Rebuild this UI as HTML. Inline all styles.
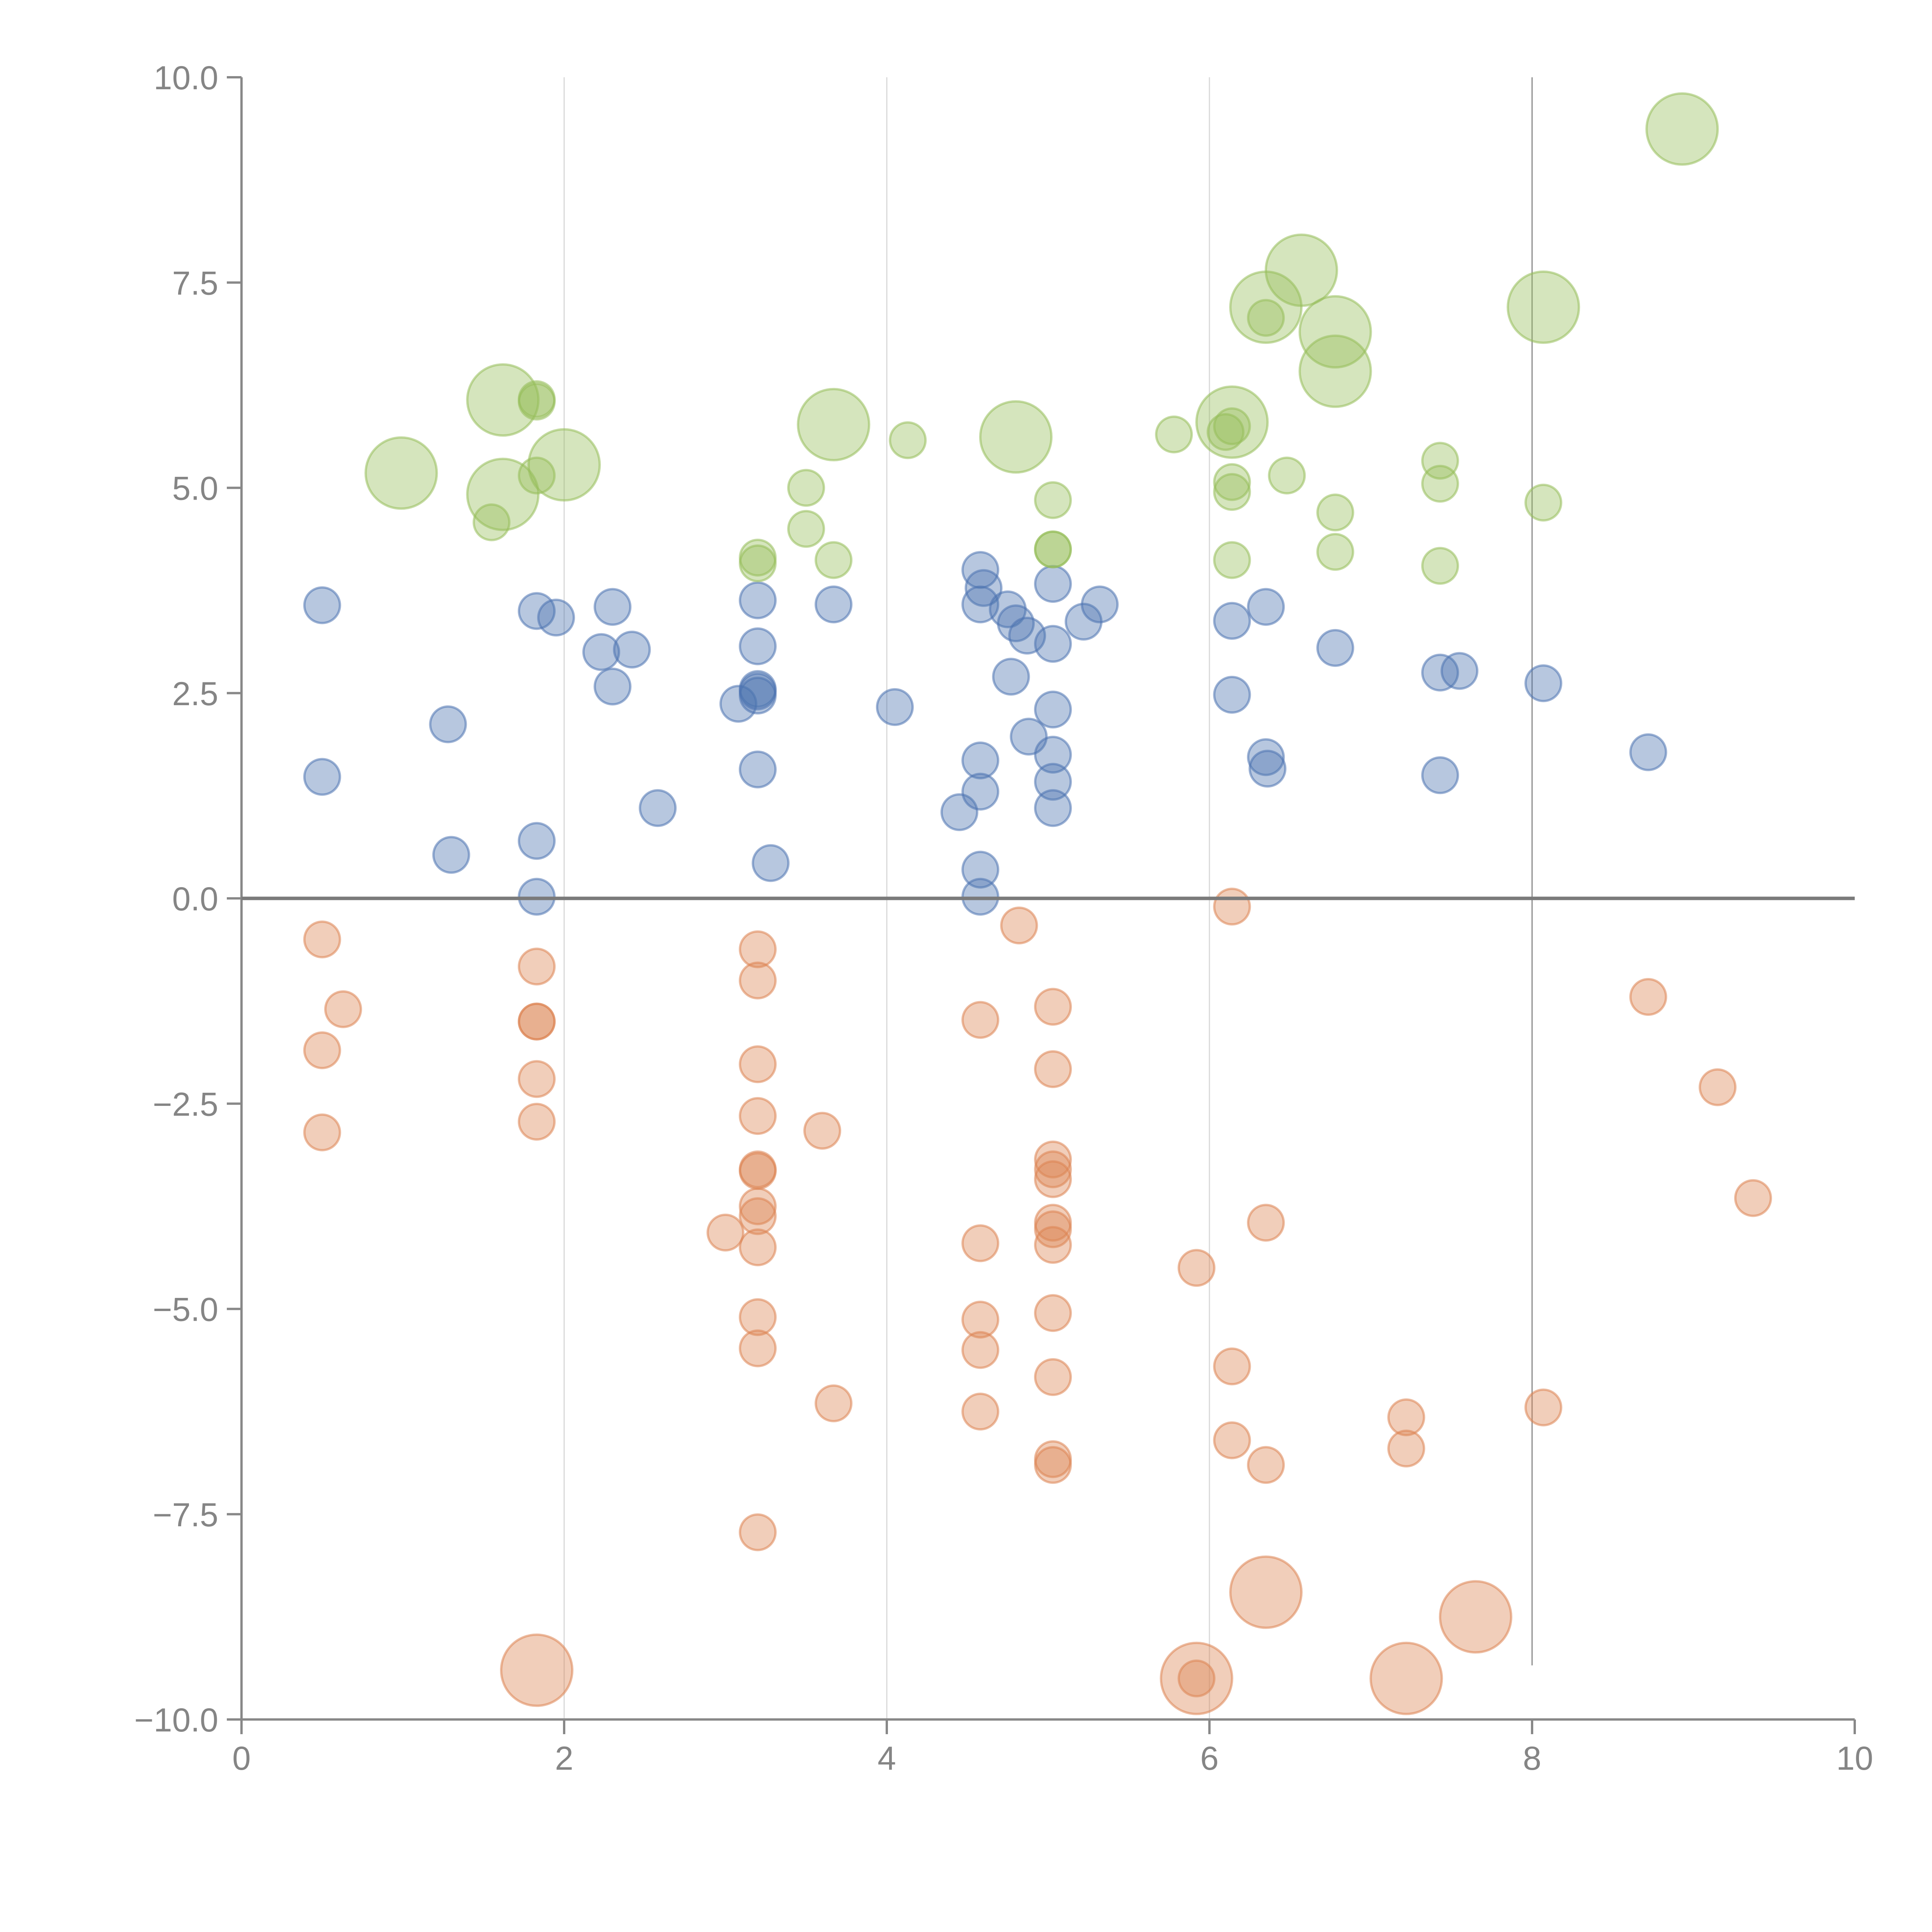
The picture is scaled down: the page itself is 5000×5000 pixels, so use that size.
<!DOCTYPE html>
<html><head><meta charset="utf-8"><style>html,body{margin:0;padding:0;background:#fff}svg{display:block}text{font-family:"Liberation Sans",Arial,sans-serif;fill:#858585}</style></head>
<body>
<svg id="chart" width="5000" height="5000" viewBox="0 0 5000 5000" xmlns="http://www.w3.org/2000/svg">
<g id="grid"></g>
<g id="marks"></g>
<g id="axes"></g>
</svg>
<script>
const xTicks=[0,2,4,6,8,10];
const xTickLabels=["0","2","4","6","8","10"];
const yTicks=[10,7.5,5,2.5,0,-2.5,-5,-7.5,-10];
const yTickLabels=["10.0","7.5","5.0","2.5","0.0","\u22122.5","\u22125.0","\u22127.5","\u221210.0"];
const blueX=[0.5,0.5,1.28,1.3,1.83,1.95,1.83,1.83,2.3,2.23,2.42,2.3,2.58,3.08,3.2,3.2,3.2,3.2,3.2,3.2,3.28,3.67,4.05,4.45,4.58,4.6,4.58,4.75,4.8,4.87,4.77,4.88,4.58,4.58,4.58,4.58,5.03,5.03,5.22,5.32,5.03,5.03,5.03,5.03,6.14,6.14,6.35,6.35,6.36,6.78,7.43,7.55,7.43,8.07,8.72];
const blueY=[3.57,1.48,2.12,0.53,3.5,3.42,0.7,0.02,3.55,3.0,3.03,2.58,1.1,2.37,3.63,3.07,2.55,2.47,2.52,1.57,0.43,3.58,2.33,1.05,4.0,3.78,3.58,3.52,3.35,3.2,2.7,1.97,1.68,1.3,0.35,0.02,3.83,3.1,3.37,3.58,2.3,1.75,1.42,1.1,3.38,2.48,3.55,1.72,1.58,3.05,2.75,2.77,1.5,2.62,1.78];
const orangeX=[0.5,0.63,0.5,0.5,1.83,1.83,1.83,1.83,1.83,3.2,3.2,3.2,3.2,3.2,3.2,3.2,3.2,3.0,3.2,3.2,3.2,3.2,3.6,3.67,4.58,4.58,4.58,4.58,4.58,4.82,5.03,5.03,5.03,5.03,5.03,5.03,5.03,5.03,5.03,5.03,5.03,5.03,5.92,6.14,6.14,6.14,6.35,6.35,7.22,7.22,8.07,8.72,9.15,9.37,5.92];
const orangeY=[-0.5,-1.35,-1.85,-2.85,-0.83,-1.5,-1.5,-2.2,-2.72,-0.62,-1.0,-2.02,-2.65,-3.3,-3.32,-3.75,-3.87,-4.07,-4.25,-5.1,-5.48,-7.72,-2.83,-6.15,-1.48,-4.2,-5.13,-5.5,-6.25,-0.33,-1.32,-2.08,-3.18,-3.3,-3.42,-3.95,-4.03,-4.22,-5.05,-5.83,-6.83,-6.9,-4.5,-0.1,-5.7,-6.6,-3.95,-6.9,-6.32,-6.7,-6.2,-1.2,-2.3,-3.65,-9.5];
const orangeBigX=[1.83,5.92,6.35,7.22,7.65];
const orangeBigY=[-9.4,-9.5,-8.45,-9.5,-8.75];
const greenX=[1.55,1.83,1.83,1.83,3.2,3.2,3.5,3.5,3.67,4.13,5.03,5.03,5.03,5.78,6.1,6.14,6.14,6.14,6.14,6.35,6.48,6.78,6.78,7.43,7.43,7.43,8.07];
const greenY=[4.58,6.08,6.05,5.15,4.15,4.08,5.0,4.5,4.12,5.58,4.85,4.25,4.25,5.65,5.68,5.75,5.07,4.95,4.12,7.07,5.15,4.7,4.22,5.33,5.05,4.05,4.82];
const greenBigX=[0.99,1.62,1.62,2.0,3.67,4.8,6.14,6.35,6.57,6.78,6.78,8.07,8.93];
const greenBigY=[5.18,6.07,4.92,5.28,5.77,5.62,5.8,7.2,7.65,6.9,6.42,7.2,9.37];

const NS="http://www.w3.org/2000/svg";
const X0=625,X1=4800,YT=200,YB=4450;
const sx=v=>X0+(v-0)/(10-0)*(X1-X0);
const sy=v=>YB-(v+10)/20*(YB-YT);
function mk(tag,parent,attrs){const e=document.createElementNS(NS,tag);for(const k in attrs)e.setAttribute(k,attrs[k]);parent.appendChild(e);return e;}
const grid=document.getElementById('grid'),marks=document.getElementById('marks'),axes=document.getElementById('axes');
[2,4,6,8].forEach(v=>{
  const l=mk('line',grid,{x1:sx(v),x2:sx(v),y1:YT,y2:v===8?4310:YB,stroke:v===8?'#888':'#d8d8d8','stroke-width':3});
  
  
});
function bubbles(xs,ys,r,col,name){
  xs.forEach((x,i)=>{
    const c=mk('circle',marks,{cx:sx(x),cy:sy(ys[i]),r:r,fill:'rgba('+col+',0.4)',stroke:'rgba('+col+',0.55)','stroke-width':6});
    
    
  });
}
bubbles(blueX,blueY,46,'76,114,176','blue-bubble');
bubbles(orangeX,orangeY,46,'221,132,82','orange-bubble');
bubbles(orangeBigX,orangeBigY,92,'221,132,82','orange-large-bubble');
bubbles(greenX,greenY,46,'150,190,90','green-bubble');
bubbles(greenBigX,greenBigY,92,'150,190,90','green-large-bubble');
let a=mk('line',axes,{x1:X0,x2:X0,y1:YT,y2:YB,stroke:'#888','stroke-width':6});


a=mk('line',axes,{x1:X0,x2:X1,y1:YB,y2:YB,stroke:'#888','stroke-width':6});


a=mk('line',axes,{x1:X0,x2:X1,y1:sy(0),y2:sy(0),stroke:'#7a7a7a','stroke-width':9});


yTicks.forEach((v,i)=>{
  const t=mk('line',axes,{x1:X0-38,x2:X0,y1:sy(v),y2:sy(v),stroke:'#888','stroke-width':6});
  
  
  const tx=mk('text',axes,{x:X0-60,y:sy(v)+31,'text-anchor':'end','font-size':86});
  tx.textContent=yTickLabels[i];
  
  
});
xTicks.forEach((v,i)=>{
  const t=mk('line',axes,{x1:sx(v),x2:sx(v),y1:YB,y2:YB+38,stroke:'#888','stroke-width':6});
  
  
  const tx=mk('text',axes,{x:sx(v),y:4580,'text-anchor':'middle','font-size':86});
  tx.textContent=xTickLabels[i];
  
  
});
</script>
</body></html>
